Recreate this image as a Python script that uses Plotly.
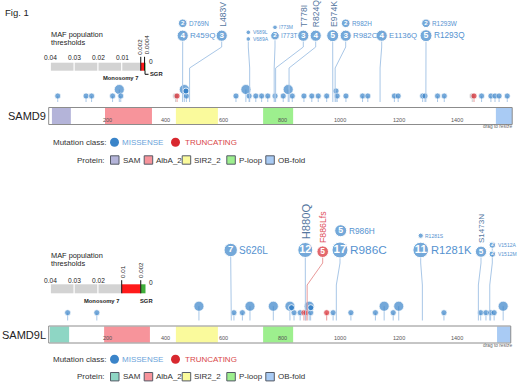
import plotly.graph_objects as go

# ---------------- data ----------------
samd9_length = 1589
samd9l_length = 1584
axis_ticks = [200, 400, 600, 800, 1000, 1200, 1400]

domain_names = ["SAM", "AlbA_2", "SIR2_2", "P-loop", "OB-fold"]
samd9_domain_start = [11, 193, 436, 735, 1533]
samd9_domain_end = [76, 354, 580, 838, 1589]
samd9l_domain_start = [4, 190, 436, 735, 1537]
samd9l_domain_end = [70, 347, 580, 838, 1584]

# lollipop track (position in aa, number of cases, class M=missense T=truncating O=other)
samd9_mut_pos = [31, 128, 147, 219, 242, 247, 435, 440, 465, 472, 642, 676, 687, 710,
                 730, 751, 776, 804, 821, 835, 875, 902, 924, 953, 985, 989, 1019, 1076,
                 1094, 1185, 1198, 1282, 1290, 1333, 1356, 1452, 1458, 1484, 1516, 1530,
                 1544, 1572]
samd9_mut_count = [1, 1, 1, 1, 4, 1, 1, 1, 6, 1, 1, 4, 1, 1,
                   1, 1, 1, 1, 4, 1, 1, 1, 1, 1, 2, 1, 1, 1,
                   1, 1, 1, 1, 1, 1, 1, 1, 1, 1, 1, 1,
                   1, 1]
samd9_mut_class = ["M", "M", "M", "M", "M", "M", "O", "T", "M", "M", "M", "M", "M", "M",
                   "M", "M", "M", "M", "M", "M", "M", "M", "M", "M", "M", "M", "M", "M",
                   "M", "M", "M", "M", "M", "M", "M", "O", "T", "M", "M", "M",
                   "M", "M"]

samd9l_mut_pos = [65, 165, 515, 635, 664, 690, 770, 827, 841, 862, 875, 882, 893, 898,
                  953, 975, 1036, 1120, 1150, 1181, 1200, 1355, 1481, 1499, 1515, 1527, 1558]
samd9l_mut_count = [1, 1, 3, 1, 1, 4, 3, 6, 1, 1, 1, 1, 8, 1,
                    1, 1, 1, 1, 3, 1, 4, 1, 1, 1, 1, 1, 4]
samd9l_mut_class = ["M", "M", "M", "M", "M", "M", "M", "M", "M", "M", "T", "T", "M", "M",
                    "T", "M", "M", "M", "M", "M", "M", "M", "M", "M", "M", "M", "M"]

# labelled hotspots
samd9_label_name = ["R459Q", "D769N", "L483V", "V689L", "V689A", "I773T", "I773M", "T778I",
                    "R824Q", "E974K", "R982C", "R982H", "E1136Q", "R1293Q", "R1293W"]
samd9_label_pos = [459, 769, 483, 689, 689, 773, 773, 778, 824, 974, 982, 982, 1136, 1293, 1293]
samd9_label_count = [4, 2, 3, 1, 1, 2, 1, 3, 4, 5, 3, 2, 4, 5, 2]
samd9_label_class = ["M"] * 15

samd9l_label_name = ["S626L", "H880Q", "F886Lfs", "R986C", "R986H", "R1281K", "R1281S",
                     "S1473N", "V1512A", "V1512M"]
samd9l_label_pos = [626, 880, 886, 986, 986, 1281, 1281, 1473, 1512, 1512]
samd9l_label_count = [7, 12, 5, 17, 5, 11, 1, 5, 2, 2]
samd9l_label_class = ["M", "M", "T", "M", "M", "M", "M", "M", "M", "M"]

# MAF population thresholds
maf_major = [0.04, 0.03, 0.02, 0.01]
samd9_thresholds = [0.002, 0.0004]
samd9l_thresholds = [0.01, 0.002]

# ---------------- style / layout ----------------
W, H = 520, 384
X0, S = 48.7, 0.2917          # pixel of aa 0 and pixels per aa
FONT = "Liberation Sans, Arial, sans-serif"
BLUE = "#3a84c9"
RED = "#d8282f"
GREY_DOT = "#b3a9ae"
STEM = "#a9c7e7"
STEM_RED = "#e99a9a"
TEXT_BLUE = "#5592d0"
VTEXT = "#56779f"
CLS_COLOR = {"M": BLUE, "T": RED, "O": GREY_DOT}
SAMD9_COLORS = ["#b4b4d9", "#f7949b", "#fafa9c", "#9def8e", "#a9cbf4"]
SAMD9L_COLORS = ["#8ed6c4", "#f7949b", "#fafa9c", "#9def8e", "#a9cbf4"]

# label placement (pixel layout): x, y, radius, mode, font size, connector
samd9_label_layout = {
    "R459Q": (182.7, 35.7, 5.6, "right", 8.0, True),
    "D769N": (182.7, 23.3, 4.3, "right", 6.4, False),
    "L483V": (221.7, 35.7, 5.6, "vert", 8.6, True),
    "V689L": (248.3, 32.3, 2.3, "right", 5.0, False),
    "V689A": (248.3, 39.0, 2.3, "right", 5.0, True),
    "I773T": (275.0, 35.7, 4.3, "right", 6.4, True),
    "I773M": (275.0, 27.3, 2.3, "right", 5.0, False),
    "T778I": (303.3, 35.7, 5.6, "vert", 8.6, True),
    "R824Q": (315.7, 35.7, 5.6, "vert", 8.6, True),
    "E974K": (332.7, 35.7, 6.0, "vert", 8.6, True),
    "R982C": (345.7, 35.7, 5.6, "right", 7.8, True),
    "R982H": (345.7, 23.3, 4.3, "right", 6.4, False),
    "E1136Q": (381.7, 35.7, 5.6, "right", 7.8, True),
    "R1293Q": (426.0, 35.7, 6.0, "right", 8.2, True),
    "R1293W": (426.0, 23.3, 4.3, "right", 6.4, False),
}
samd9l_label_layout = {
    "S626L": (230.7, 250.0, 6.7, "right", 10.0, True),
    "H880Q": (305.3, 250.0, 7.5, "vert", 11.2, True),
    "F886Lfs": (322.7, 251.7, 5.8, "vert", 8.8, True),
    "R986C": (340.0, 250.0, 8.0, "right", 11.8, True),
    "R986H": (340.7, 230.7, 6.0, "right", 8.3, False),
    "R1281K": (420.7, 250.0, 7.8, "right", 11.2, True),
    "R1281S": (420.7, 235.7, 2.6, "right", 5.0, False),
    "S1473N": (481.0, 251.7, 5.6, "vert", 8.1, True),
    "V1512A": (492.3, 245.0, 3.3, "right", 5.0, True),
    "V1512M": (492.3, 254.0, 3.3, "right", 5.0, False),
}

fig = go.Figure()
shapes = []
annotations = []


def ann(x, y, text, size, color="#222", xanchor="left", yanchor="middle", xref="x2",
        angle=0, bold=False):
    annotations.append(dict(
        x=x, y=y, xref=xref, yref="y", text=text, showarrow=False,
        xanchor=xanchor, yanchor=yanchor, textangle=angle, borderpad=0,
        font=dict(family=FONT, size=size, color=color, weight="bold" if bold else "normal")))


def dot_geometry(count):
    if count >= 3:
        return 10, -6.5
    if count == 2:
        return 6, -5
    return 6, 0


def draw_lollipops(pos, count, cls, base_y, stem_bottom):
    for stem_cls, col in (("M", STEM), ("T", STEM_RED), ("O", "#cccccc")):
        sx, sy = [], []
        for p, c, k in zip(pos, count, cls):
            if k != stem_cls:
                continue
            d, dy = dot_geometry(c)
            sx += [p, p, None]
            sy += [base_y + dy, stem_bottom, None]
        fig.add_trace(go.Scatter(x=sx, y=sy, mode="lines", xaxis="x", yaxis="y",
                                 line=dict(color=col, width=1), hoverinfo="skip"))
    xs, ys, sz, cols = [], [], [], []
    rx, ry = [], []
    for p, c, k in zip(pos, count, cls):
        d, dy = dot_geometry(c)
        xs.append(p); ys.append(base_y + dy); sz.append(d); cols.append(CLS_COLOR[k])
        if c >= 6:
            rx.append(p + 1.6 / S); ry.append(base_y + dy + 1.5)
    fig.add_trace(go.Scatter(x=xs, y=ys, mode="markers", xaxis="x", yaxis="y",
                             marker=dict(size=sz, color=cols, line=dict(color="white", width=0.7)),
                             hoverinfo="skip"))
    if rx:
        fig.add_trace(go.Scatter(x=rx, y=ry, mode="markers", xaxis="x", yaxis="y",
                                 marker=dict(size=6, color=BLUE, line=dict(color="white", width=0.8)),
                                 hoverinfo="skip"))


def draw_labels(names, pos, count, cls, layout, bend_top, bend_bottom, stem_bottom):
    for stem_cls, col in (("M", STEM), ("T", STEM_RED)):
        sx, sy = [], []
        for n, p, k in zip(names, pos, cls):
            lx, ly, r, mode, fs, conn = layout[n]
            if not conn or k != stem_cls:
                continue
            lxa = (lx - X0) / S
            sx += [lxa, lxa, p, p, None]
            sy += [ly + r, bend_top, bend_bottom, stem_bottom, None]
        fig.add_trace(go.Scatter(x=sx, y=sy, mode="lines", xaxis="x", yaxis="y",
                                 line=dict(color=col, width=1), hoverinfo="skip"))
    xs, ys, sz, cols, txt, tsz = [], [], [], [], [], []
    for n, c, k in zip(names, count, cls):
        lx, ly, r, mode, fs, conn = layout[n]
        xs.append(lx); ys.append(ly); sz.append(2 * r); cols.append(CLS_COLOR[k])
        txt.append(str(c) if c > 1 else "")
        tsz.append(max(r * 1.45, 5))
        color = RED if k == "T" else TEXT_BLUE
        if mode == "right":
            ann(lx + r + 1.0, ly, n, fs, color=color)
        else:
            vcol = "#e05060" if k == "T" else VTEXT
            ann(lx + 0.5, ly - r - 2, n, fs, color=vcol, xanchor="center", yanchor="bottom",
                angle=-90)
    fig.add_trace(go.Scatter(x=xs, y=ys, mode="markers+text", xaxis="x2", yaxis="y",
                             text=txt, textposition="middle center",
                             textfont=dict(family=FONT, size=tsz, color="white", weight="bold"),
                             marker=dict(size=sz, color=cols, line=dict(color="white", width=1)),
                             hoverinfo="skip"))


def draw_protein(name, length, starts, ends, colors, y0, y1):
    shapes.append(dict(type="rect", xref="x", yref="y", x0=0, x1=length, y0=y0, y1=y1,
                       fillcolor="white", line=dict(width=0), layer="below"))
    for s, e, c in zip(starts, ends, colors):
        shapes.append(dict(type="rect", xref="x", yref="y", x0=s, x1=e, y0=y0 + 0.5, y1=y1 - 0.5,
                           fillcolor=c, line=dict(width=0), layer="below"))
    shapes.append(dict(type="rect", xref="x", yref="y", x0=0, x1=length, y0=y0, y1=y1,
                       fillcolor="rgba(0,0,0,0)", line=dict(color="#8c8c8c", width=1), layer="below"))
    for t in axis_ticks:
        annotations.append(dict(x=t, y=(y0 + y1) / 2 + 3.5, xref="x", yref="y", text=str(t),
                                showarrow=False, xanchor="center", yanchor="middle",
                                font=dict(family=FONT, size=5.5, color="#555")))
    ann(X0 - 1.5, (y0 + y1) / 2, name, 11, color="#222", xanchor="right")
    ann(513, y1 + 2.2, "drag to resize", 4.8, color="#666", xanchor="right")


def maf_x(v):
    return 145.5 - v * 2380


def draw_maf(thresholds, label_dx, top, label_y, box_y0, box_y1, sgr_bracket):
    ann(50, top, "MAF population", 7.4)
    ann(50, top + 8.5, "thresholds", 7.4)
    edges = [m for m in maf_major if m > thresholds[0]] + [thresholds[0]]
    for a, b in zip(edges[:-1], edges[1:]):
        shapes.append(dict(type="rect", xref="x2", yref="y", x0=maf_x(a) + 0.6, x1=maf_x(b) - 0.6,
                           y0=box_y0, y1=box_y1, fillcolor="#d3d3d3", line=dict(width=0)))
    shapes.append(dict(type="rect", xref="x2", yref="y", x0=maf_x(thresholds[0]), x1=maf_x(thresholds[1]),
                       y0=box_y0, y1=box_y1, fillcolor="#ff1a1a", line=dict(width=0)))
    shapes.append(dict(type="rect", xref="x2", yref="y", x0=maf_x(thresholds[1]), x1=maf_x(0),
                       y0=box_y0, y1=box_y1, fillcolor="#3fae3a", line=dict(width=0)))
    for m in maf_major:
        if m > thresholds[0]:
            ann(maf_x(m) + 0.5, label_y, f"{m:g}", 6.6, xanchor="center")
    for t, dx in zip(thresholds, label_dx):
        shapes.append(dict(type="line", xref="x2", yref="y", x0=maf_x(t), x1=maf_x(t),
                           y0=label_y - 0.5, y1=box_y1, line=dict(color="#111", width=1)))
        ann(maf_x(t) + dx, label_y - 1.8, f"{t:g}", 6.2, xanchor="center", yanchor="bottom", angle=-90)
    ann(maf_x(0) + 2.5, box_y0 - 1.5, "0", 6.6)
    ann(maf_x(thresholds[0]) - 1.5, box_y1 + 7.2, "Monosomy 7", 5.8, xanchor="right", bold=True)
    if sgr_bracket:
        gx = (maf_x(thresholds[1]) + maf_x(0)) / 2
        shapes.append(dict(type="path", xref="x2", yref="y",
                           path=f"M {gx},{box_y1} L {gx},{box_y1 + 3.6} L {gx + 3.5},{box_y1 + 3.6}",
                           line=dict(color="#111", width=1)))
        ann(gx + 4, box_y1 + 3.4, "SGR", 5.8, bold=True)
    else:
        ann(maf_x(thresholds[1]) - 1.5, box_y1 + 7.2, "SGR", 5.8, bold=True)


def draw_legend(y_cls, y_prot, colors):
    ann(51.5, y_cls, "Mutation class:", 8, color="#333")
    fig.add_trace(go.Scatter(x=[114.5, 175.5], y=[y_cls, y_cls], mode="markers", xaxis="x2", yaxis="y",
                             marker=dict(size=9, color=[BLUE, RED]), hoverinfo="skip"))
    ann(120.5, y_cls, "MISSENSE", 8, color="#6aa3da")
    ann(183.8, y_cls, "TRUNCATING", 8, color="#d9474a")
    ann(106, y_prot, "Protein:", 8, color="#333", xanchor="right")
    sq_x = [110.5, 144.2, 182.2, 226.8, 265.8]
    for x, nm, c in zip(sq_x, domain_names, colors):
        shapes.append(dict(type="rect", xref="x2", yref="y", x0=x, x1=x + 8.5, y0=y_prot - 4.2,
                           y1=y_prot + 4.2, fillcolor=c, line=dict(color="#555a66", width=1)))
        ann(x + 11, y_prot, nm, 8, color="#333")


# ---------------- SAMD9 ----------------
draw_lollipops(samd9_mut_pos, samd9_mut_count, samd9_mut_class, 96, 102)
draw_labels(samd9_label_name, samd9_label_pos, samd9_label_count, samd9_label_class,
            samd9_label_layout, 47, 68, 102)
draw_protein("SAMD9", samd9_length, samd9_domain_start, samd9_domain_end, SAMD9_COLORS, 107.5, 124.5)
draw_maf(samd9_thresholds, [-1.4, 1.6], 34.3, 57.3, 62.7, 70.7, True)
draw_legend(142.3, 160, SAMD9_COLORS)

# ---------------- SAMD9L ----------------
draw_lollipops(samd9l_mut_pos, samd9l_mut_count, samd9l_mut_class, 312.7, 320.5)
draw_labels(samd9l_label_name, samd9l_label_pos, samd9l_label_count, samd9l_label_class,
            samd9l_label_layout, 263, 285, 320.5)
draw_protein("SAMD9L", samd9l_length, samd9l_domain_start, samd9l_domain_end, SAMD9L_COLORS, 326, 343)
draw_maf(samd9l_thresholds, [0.8, 0.3], 255, 280.7, 284.3, 293.3, False)
draw_legend(359.3, 376.7, SAMD9L_COLORS)

ann(3.5, 12, "Fig. 1", 9.5, color="#222")

fig.update_layout(
    width=W, height=H, margin=dict(l=0, r=0, t=0, b=0),
    paper_bgcolor="white", plot_bgcolor="white", showlegend=False, hovermode=False,
    xaxis=dict(range=[(0 - X0) / S, (W - X0) / S], visible=False, fixedrange=True, domain=[0, 1]),
    xaxis2=dict(range=[0, W], visible=False, overlaying="x", anchor="y", fixedrange=True),
    yaxis=dict(range=[H, 0], visible=False, fixedrange=True, domain=[0, 1]),
    shapes=shapes, annotations=annotations,
)
fig.write_html("out.html", config={"displayModeBar": False, "staticPlot": True},
               post_script="document.body.style.margin='0';document.body.style.overflow='hidden';")
